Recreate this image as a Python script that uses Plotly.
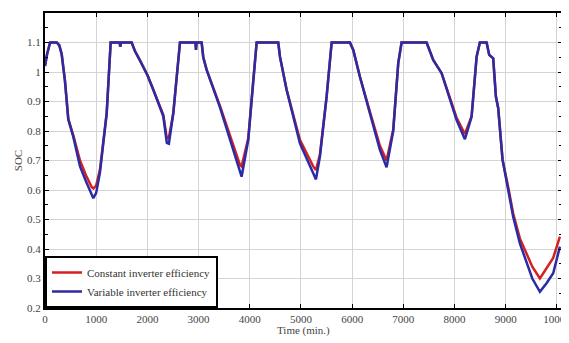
import plotly.graph_objects as go

time_min = [0, 40, 100, 230, 280, 326, 390, 455, 553, 684, 800, 912, 944, 1000, 1074, 1205, 1283,
            1460, 1470, 1480, 1693, 1760, 1855, 2000, 2116, 2311, 2380, 2420, 2506, 2637,
            2940, 2950, 2960, 3060, 3092, 3158, 3418, 3613, 3809, 3841, 3971, 4069, 4135,
            4557, 4590, 4720, 4980, 5240, 5293, 5371, 5501, 5600,
            5957, 6022, 6152, 6348, 6543, 6673, 6803, 6901, 6966,
            7455, 7584, 7748, 7910, 8041, 8203, 8334, 8432, 8496,
            8627, 8678, 8756, 8809, 8854, 8873, 8939, 9049, 9146, 9277, 9408, 9520,
            9668, 9798, 9928, 10059]

soc_variable = [1.02, 1.06, 1.10, 1.10, 1.09, 1.06, 0.97, 0.84, 0.78, 0.68, 0.63, 0.58, 0.572, 0.59, 0.66, 0.86, 1.10,
                1.10, 1.085, 1.10, 1.10, 1.07, 1.04, 0.99, 0.94, 0.85, 0.76, 0.757, 0.86, 1.10,
                1.10, 1.075, 1.10, 1.10, 1.05, 1.007, 0.88, 0.77, 0.657, 0.645, 0.77, 0.973, 1.10,
                1.10, 1.052, 0.94, 0.758, 0.657, 0.636, 0.713, 0.916, 1.10,
                1.10, 1.075, 0.984, 0.86, 0.736, 0.677, 0.80, 1.03, 1.10,
                1.10, 1.041, 0.996, 0.905, 0.837, 0.772, 0.848, 1.052, 1.10,
                1.10, 1.058, 1.046, 0.916, 0.877, 0.837, 0.702, 0.60, 0.509, 0.419, 0.352, 0.30,
                0.255, 0.284, 0.318, 0.408]

soc_constant = [1.02, 1.06, 1.10, 1.10, 1.09, 1.06, 0.97, 0.84, 0.785, 0.70, 0.65, 0.61, 0.605, 0.615, 0.67, 0.86, 1.10,
                1.10, 1.085, 1.10, 1.10, 1.07, 1.04, 0.99, 0.94, 0.855, 0.775, 0.777, 0.86, 1.10,
                1.10, 1.075, 1.10, 1.10, 1.05, 1.007, 0.885, 0.785, 0.685, 0.68, 0.775, 0.973, 1.10,
                1.10, 1.052, 0.94, 0.77, 0.68, 0.668, 0.72, 0.916, 1.10,
                1.10, 1.075, 0.984, 0.865, 0.75, 0.70, 0.805, 1.03, 1.10,
                1.10, 1.041, 0.996, 0.91, 0.845, 0.79, 0.85, 1.052, 1.10,
                1.10, 1.058, 1.046, 0.916, 0.877, 0.837, 0.702, 0.61, 0.52, 0.436, 0.385, 0.34,
                0.30, 0.335, 0.37, 0.442]

x_ticks = [0, 1000, 2000, 3000, 4000, 5000, 6000, 7000, 8000, 9000, 10000]
x_tick_labels = ["0", "1000", "2000", "3000", "4000", "5000", "6000", "7000", "8000", "9000", "10000"]
y_ticks = [0.2, 0.3, 0.4, 0.5, 0.6, 0.7, 0.8, 0.9, 1.0, 1.1, 1.2]
y_tick_labels = ["0.2", "0.3", "0.4", "0.5", "0.6", "0.7", "0.8", "0.9", "1", "1.1", "1.2"]

serif = "Liberation Serif, Times New Roman, serif"

fig = go.Figure()
fig.add_trace(go.Scatter(x=time_min, y=soc_constant, mode="lines",
                         name="Constant inverter efficiency",
                         line=dict(color="#d42020", width=2.5)))
fig.add_trace(go.Scatter(x=time_min, y=soc_variable, mode="lines",
                         name="Variable inverter efficiency",
                         line=dict(color="#2b2ba6", width=2.5)))

# the page has an 8px body margin, so the figure is sized/offset to compensate
fig.update_layout(
    width=561, height=335,
    margin=dict(l=37, r=7, t=5, b=35),
    paper_bgcolor="white", plot_bgcolor="white",
    font=dict(family=serif, size=11, color="#444444"),
    legend=dict(x=0, y=0, xanchor="left", yanchor="bottom",
                bordercolor="black", borderwidth=2, bgcolor="white",
                font=dict(family=serif, size=11, color="#333333"),
                tracegroupgap=0, itemwidth=30),
    showlegend=True,
)
fig.add_annotation(text="Time (min.)", xref="paper", yref="paper", x=0.5, y=0,
                   xanchor="center", yanchor="top", yshift=-14, showarrow=False,
                   font=dict(family=serif, size=11, color="#444444"))
fig.update_xaxes(range=[0, 10100], tickvals=x_ticks, ticktext=x_tick_labels,
                 automargin=False, ticklabeloverflow="allow",
                 showgrid=True, gridcolor="#d4d4d4", gridwidth=1,
                 showline=True, linecolor="black", linewidth=2, mirror="allticks",
                 ticks="inside", ticklen=4, tickcolor="black",
                 zeroline=False)
fig.update_yaxes(range=[0.2, 1.2], tickvals=y_ticks, ticktext=y_tick_labels,
                 automargin=False,
                 showgrid=True, gridcolor="#d4d4d4", gridwidth=1,
                 showline=True, linecolor="black", linewidth=2, mirror="allticks",
                 ticks="inside", ticklen=4, tickcolor="black",
                 minor=dict(ticks="inside", dtick=0.05, ticklen=3, tickcolor="black", showgrid=False),
                 zeroline=False,
                 title=dict(text="SOC", font=dict(family=serif, size=11, color="#444444"), standoff=2))

fig.write_html("out.html")
